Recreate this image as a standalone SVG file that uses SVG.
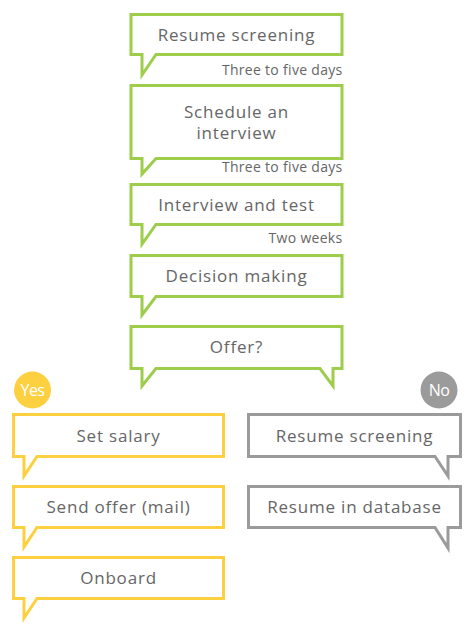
<svg xmlns="http://www.w3.org/2000/svg" width="472" height="634" viewBox="0 0 472 634">
<style>
.g{fill:#fff;stroke:#9dcd4b;stroke-width:3;stroke-linejoin:miter}
.y{fill:#fff;stroke:#fdd03f;stroke-width:3;stroke-linejoin:miter}
.s{fill:#fff;stroke:#9b9b9b;stroke-width:3;stroke-linejoin:miter}
.t{font-family:"Open Sans","Noto Sans",sans-serif;font-size:17px;fill:#666;text-anchor:middle;letter-spacing:0.8px}
.n{font-family:"Open Sans","Noto Sans",sans-serif;font-size:14px;fill:#666;text-anchor:end;letter-spacing:0.3px}
.b{font-family:"Open Sans","Noto Sans",sans-serif;font-size:16px;fill:#fff;text-anchor:middle;letter-spacing:-0.6px}
</style>
<rect width="472" height="634" fill="#fff"/>
<g id="connectors"></g>
<g id="n1"><path class="g" d="M131,14.5 H342 V54.5 H156 L142,75 V54.5 H131 Z"/><text class="t" x="236.5" y="41">Resume screening</text></g>
<text class="n" x="342.5" y="75">Three to five days</text>
<g id="n2"><path class="g" d="M131,85.5 H342 V158.5 H156 L142,174 V158.5 H131 Z"/><text class="t" x="236.5" y="118">Schedule an</text><text class="t" x="236.5" y="139">interview</text></g>
<text class="n" x="342.5" y="172">Three to five days</text>
<g id="n3"><path class="g" d="M131,184.5 H342 V224.5 H156 L142,244 V224.5 H131 Z"/><text class="t" x="236.5" y="211">Interview and test</text></g>
<text class="n" x="342.5" y="243">Two weeks</text>
<g id="n4"><path class="g" d="M131,255.5 H342 V296.5 H156 L142,315 V296.5 H131 Z"/><text class="t" x="236.5" y="282">Decision making</text></g>
<g id="n5"><path class="g" d="M131,326.5 H342 V368.5 H333 V386 L320,368.5 H156 L142,386 V368.5 H131 Z"/><text class="t" x="236.5" y="353">Offer?</text></g>
<g id="yes"><circle cx="32.5" cy="390" r="18.5" fill="#fdd03f"/><text class="b" x="32.5" y="395.5">Yes</text></g>
<g id="no"><circle cx="439" cy="390" r="18.5" fill="#9b9b9b"/><text class="b" x="439" y="395.5">No</text></g>
<g id="y1"><path class="y" d="M13.5,414.5 H223.5 V456.5 H37 L24,476 V456.5 H13.5 Z"/><text class="t" x="118.5" y="442">Set salary</text></g>
<g id="y2"><path class="y" d="M13.5,486.5 H223.5 V527.5 H37 L24,547 V527.5 H13.5 Z"/><text class="t" x="118.5" y="513">Send offer (mail)</text></g>
<g id="y3"><path class="y" d="M13.5,557.5 H223.5 V598.5 H37 L24,618 V598.5 H13.5 Z"/><text class="t" x="118.5" y="584">Onboard</text></g>
<g id="s1"><path class="s" d="M248.5,414.5 H460.5 V456.5 H448 V476 L435,456.5 H248.5 Z"/><text class="t" x="354.5" y="442">Resume screening</text></g>
<g id="s2"><path class="s" d="M248.5,486.5 H460.5 V527.5 H448 V548 L435,527.5 H248.5 Z"/><text class="t" x="354.5" y="513">Resume in database</text></g>
</svg>
